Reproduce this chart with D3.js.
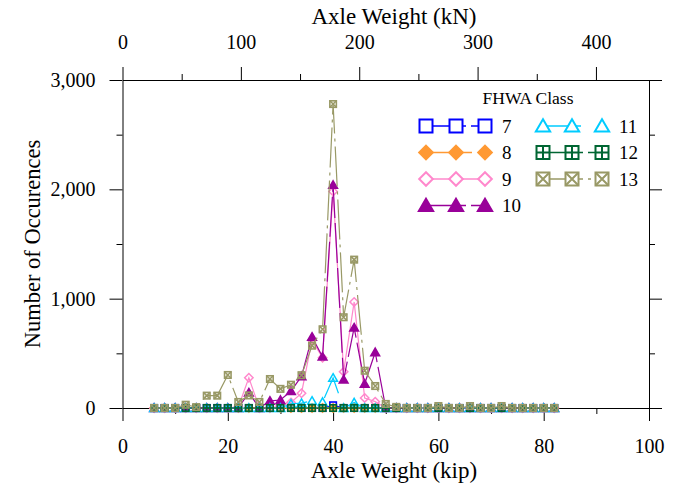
<!DOCTYPE html>
<html><head><meta charset="utf-8">
<script src="https://cdn.jsdelivr.net/npm/d3@7"></script>
<style>
html,body{margin:0;padding:0;background:#fff;}
svg text{font-family:"Liberation Serif","Times New Roman",serif;fill:#000;}
</style></head>
<body>
<svg id="chart" width="673" height="487"></svg>
<script>
// ---------- data ----------
const axleKip = [6,8,10,12,14,16,18,20,22,24,26,28,30,32,34,36,38,40,42,44,46,48,50,52,54,56,58,60,62,64,66,68,70,72,74,76,78,80,82];
const class7  = [0,0,0,0,0,0,0,0,0,0,0,0,0,0,0,0,0,25,0,0,0,0,0,0,0,0,0,0,0,0,0,0,0,0,0,0,0,0,0];
const class8  = [0,0,0,0,0,0,0,0,0,0,0,0,0,0,0,0,0,0,0,0,0,0,0,0,0,0,0,0,0,0,0,0,0,0,0,0,0,0,0];
const class9  = [0,0,0,0,0,0,0,0,10,277,0,0,20,50,135,620,460,1980,332,970,92,58,0,0,0,0,0,0,0,0,0,0,0,0,0,0,0,0,0];
const class10 = [0,0,0,0,0,0,0,0,0,140,0,65,73,155,290,650,469,2040,260,735,222,510,0,0,0,0,0,0,0,0,0,0,0,0,0,0,0,0,0];
const class11 = [0,0,0,0,0,0,0,0,0,0,0,0,0,38,45,65,55,275,0,50,0,0,0,0,0,0,0,0,0,0,0,0,0,0,0,0,0,0,0];
const class12 = [0,0,0,0,0,0,0,0,0,0,0,0,0,0,0,0,0,0,0,0,0,0,0,0,0,0,0,0,0,0,0,0,0,0,0,0,0,0,0];
const class13 = [0,0,0,30,8,113,113,302,55,115,55,265,175,213,300,570,720,2780,830,1357,341,201,37,10,0,0,0,18,0,0,18,0,0,18,0,0,0,0,0];

const seriesNames = ["7","8","9","10","11","12","13"];
const seriesData = [class7, class8, class9, class10, class11, class12, class13];

const yTicksMajor = [0,1000,2000,3000];
const yTicksMinor = [500,1500,2500];
const xTicksMajor = [0,20,40,60,80,100];
const xTicksMinor = [10,30,50,70,90];
const kNTicksMajor = [0,100,200,300,400];
const kNTicksMinor = [50,150,250,350];
const KIP_TO_KN = 4.44822;

// ---------- styles ----------
const styles = {
  "7":  {color:"#0000ff", shape:"square",     fill:"none", dash:"40,5"},
  "8":  {color:"#ff9933", shape:"diamond",    fill:"#ff9933", dash:"46,10"},
  "9":  {color:"#ff88cc", shape:"diamond",    fill:"none", dash:null},
  "10": {color:"#990099", shape:"triangle",   fill:"#990099", dash:"40,5"},
  "11": {color:"#00ccff", shape:"triangle",   fill:"none", dash:"38,20"},
  "12": {color:"#006633", shape:"squarePlus", fill:"none", dash:"40,5"},
  "13": {color:"#999966", shape:"squareX",    fill:"none", dash:"40,5,3,5"}
};
const FONT = '"Liberation Serif","Times New Roman",serif';

const svg = d3.select("#chart");
const L = 122.5, R = 649, T = 80, B = 408;
const x = d3.scaleLinear().domain([0,100]).range([L,R]);
const xkN = d3.scaleLinear().domain([0,100*KIP_TO_KN]).range([L,R]);
const y = d3.scaleLinear().domain([0,3000]).range([B,T]);

const MAJ = 13, MIN = 6, FS = 20;

function styleAxis(g){
  g.attr("font-family",null).attr("font-size",null);
  g.selectAll("path.domain").attr("stroke","#000").attr("stroke-width",1);
  g.selectAll(".tick line").attr("stroke","#000").attr("stroke-width",1);
  g.selectAll("text").style("font-family",FONT).style("font-size",FS+"px").attr("fill","#000");
}

// bottom axis
svg.append("g").attr("transform",`translate(0,${B})`)
  .call(d3.axisBottom(x).tickValues(xTicksMinor).tickSize(MIN).tickSizeOuter(0).tickFormat(""))
  .call(g=>g.select(".domain").remove()).call(styleAxis);
svg.append("g").attr("transform",`translate(0,${B})`)
  .call(d3.axisBottom(x).tickValues(xTicksMajor).tickSize(MAJ).tickSizeOuter(0).tickPadding(18).tickFormat(d3.format("d")))
  .call(styleAxis);
// top axis (kN)
svg.append("g").attr("transform",`translate(0,${T})`)
  .call(d3.axisTop(xkN).tickValues(kNTicksMinor).tickSize(MIN).tickSizeOuter(0).tickFormat(""))
  .call(g=>g.select(".domain").remove()).call(styleAxis);
svg.append("g").attr("transform",`translate(0,${T})`)
  .call(d3.axisTop(xkN).tickValues(kNTicksMajor).tickSize(MAJ).tickSizeOuter(0).tickPadding(18).tickFormat(d3.format("d")))
  .call(styleAxis);
// left axis
svg.append("g").attr("transform",`translate(${L},0)`)
  .call(d3.axisLeft(y).tickValues(yTicksMinor).tickSize(MIN).tickSizeOuter(0).tickFormat(""))
  .call(g=>g.select(".domain").remove()).call(styleAxis);
svg.append("g").attr("transform",`translate(${L},0)`)
  .call(d3.axisLeft(y).tickValues(yTicksMajor).tickSize(MAJ).tickSizeOuter(0).tickPadding(14).tickFormat(d3.format(",")))
  .call(styleAxis);
// right axis
svg.append("g").attr("transform",`translate(${R},0)`)
  .call(d3.axisRight(y).tickValues(yTicksMinor).tickSize(MIN).tickSizeOuter(0).tickFormat(""))
  .call(g=>g.select(".domain").remove()).call(styleAxis);
svg.append("g").attr("transform",`translate(${R},0)`)
  .call(d3.axisRight(y).tickValues(yTicksMajor).tickSize(MAJ).tickSizeOuter(0).tickFormat(""))
  .call(styleAxis);

// axis titles
svg.append("text").attr("x",394).attr("y",478).attr("text-anchor","middle").style("font-family",FONT).style("font-size","23px").text("Axle Weight (kip)");
svg.append("text").attr("x",394).attr("y",24).attr("text-anchor","middle").style("font-family",FONT).style("font-size","23px").text("Axle Weight (kN)");
svg.append("text").attr("transform",`translate(40,${(T+B)/2}) rotate(-90)`).attr("text-anchor","middle").style("font-family",FONT).style("font-size","22.5px").text("Number of Occurences");

// marker drawing
function marker(g, shape, cx, cy, s, color, fill, sw){
  const h = s/2;
  if(shape==="square"||shape==="squarePlus"||shape==="squareX"){
    g.append("rect").attr("x",cx-h).attr("y",cy-h).attr("width",s).attr("height",s)
      .attr("fill",fill).attr("stroke",color).attr("stroke-width",sw);
    if(shape==="squarePlus"){
      g.append("path").attr("d",`M${cx-h},${cy}H${cx+h}M${cx},${cy-h}V${cy+h}`).attr("stroke",color).attr("stroke-width",sw);
    }
    if(shape==="squareX"){
      g.append("path").attr("d",`M${cx-h},${cy-h}L${cx+h},${cy+h}M${cx+h},${cy-h}L${cx-h},${cy+h}`).attr("stroke",color).attr("stroke-width",sw);
    }
  } else if(shape==="diamond"){
    const d = h*1.05;
    g.append("path").attr("d",`M${cx},${cy-d}L${cx+d},${cy}L${cx},${cy+d}L${cx-d},${cy}Z`)
      .attr("fill",fill).attr("stroke",color).attr("stroke-width",sw);
  } else if(shape==="triangle"){
    const w = h*1.1;
    g.append("path").attr("d",`M${cx},${cy-h*1.05}L${cx+w},${cy+h*0.85}L${cx-w},${cy+h*0.85}Z`)
      .attr("fill",fill).attr("stroke",color).attr("stroke-width",sw);
  }
}

const line = d3.line().x((d,i)=>x(axleKip[i])).y(d=>y(d));
const plotG = svg.append("g");
seriesNames.forEach((name, si)=>{
  const st = styles[name];
  const vals = seriesData[si];
  const g = plotG.append("g");
  g.append("path").datum(vals).attr("d",line).attr("fill","none")
    .attr("stroke",st.color).attr("stroke-width",1.2)
    .attr("stroke-dasharray",st.dash);
  const sq = st.shape.startsWith("square");
  vals.forEach((v,i)=>{
    marker(g, st.shape, x(axleKip[i]), y(v), sq ? 6.5 : 8, st.color, st.fill, sq ? 1.6 : 1.5);
  });
});

// legend
const lg = svg.append("g");
lg.append("text").attr("x",528).attr("y",104).attr("text-anchor","middle").style("font-family",FONT).style("font-size","17.5px").text("FHWA Class");
const legendCols = [{mx:[426,456,485], tx:502},{mx:[543,572,602], tx:619}];
const rowY = [126,152.5,179,205.5];
seriesNames.forEach((name, si)=>{
  const st = styles[name];
  const col = si<4 ? legendCols[0] : legendCols[1];
  const ry = rowY[si<4 ? si : si-4];
  const g = lg.append("g");
  g.append("line").attr("x1",col.mx[0]).attr("x2",col.mx[2]).attr("y1",ry).attr("y2",ry)
    .attr("stroke",st.color).attr("stroke-width",1.3).attr("stroke-dasharray",st.dash);
  col.mx.forEach(mx=> marker(g, st.shape, mx, ry, 13, st.color, st.fill==="none"?"#fff":st.fill, 2));
  g.append("text").attr("x",col.tx).attr("y",ry+6.5).style("font-family",FONT).style("font-size","19px").text(name);
});
</script>
</body></html>
